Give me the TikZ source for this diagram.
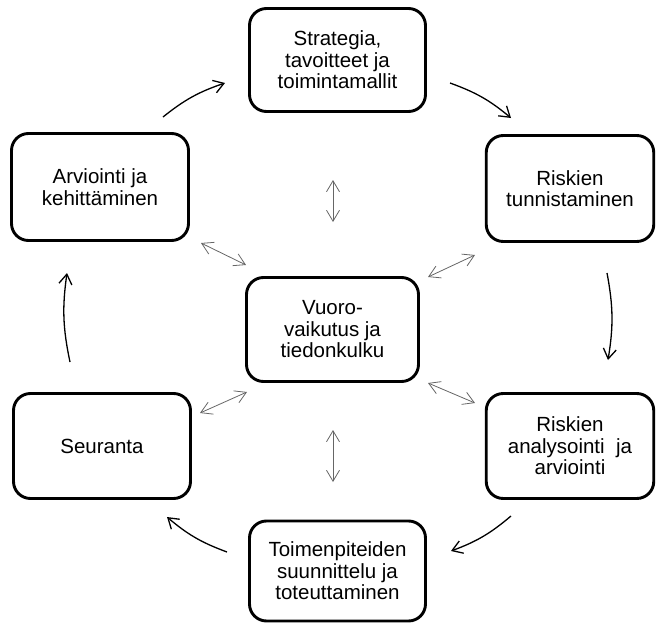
\documentclass[tikz,border=0pt]{standalone}
\usepackage{fontspec}
\setmainfont{Liberation Sans}
\usetikzlibrary{arrows.meta}
\begin{document}
\begin{tikzpicture}[x=1pt,y=-1pt,
  box/.style={draw=black, line width=2.9pt, rounded corners=17pt, align=center,
    font=\fontsize{20.5}{21.5}\selectfont, inner sep=0pt, fill=white},
  cyc/.style={draw=black, line width=1.3pt,
    -{Straight Barb[length=10pt,width=13pt,line width=1.3pt]}, bend left=10},
  dbl/.style={draw=black!60, line width=0.8pt,
    {Straight Barb[length=11pt,width=13pt]}-{Straight Barb[length=11pt,width=13pt]}}
]
\useasboundingbox (0,0) rectangle (657,627);
% boxes
\node[box, minimum width=176pt, minimum height=103pt] (strat) at (337.5,60) {Strategia,\\tavoitteet ja\\toimintamallit};
\node[box, minimum width=167.5pt, minimum height=106pt] (riskt) at (570,188.5) {Riskien\\tunnistaminen};
\node[box, minimum width=167.5pt, minimum height=105pt] (riska) at (570,446) {Riskien\\analysointi\ \ ja\\arviointi};
\node[box, minimum width=176pt, minimum height=100pt] (toim) at (337.5,571) {Toimenpiteiden\\suunnittelu ja\\toteuttaminen};
\node[box, minimum width=177pt, minimum height=105pt] (seur) at (102,446) {Seuranta};
\node[box, minimum width=177pt, minimum height=107pt] (arv) at (100,187) {Arviointi ja\\kehittäminen};
\node[box, minimum width=172pt, minimum height=104pt] (vuoro) at (332.5,329.5) {Vuoro-\\vaikutus ja\\tiedonkulku};
% cycle arrow end points
\coordinate (c1a) at (450,83);  \coordinate (c1b) at (511,118);
\coordinate (c2a) at (607,273); \coordinate (c2b) at (608,360);
\coordinate (c3a) at (511,516); \coordinate (c3b) at (451,551);
\coordinate (c4a) at (227,552); \coordinate (c4b) at (167,517);
\coordinate (c5a) at (70,362);  \coordinate (c5b) at (67,273);
\coordinate (c6a) at (163,117); \coordinate (c6b) at (225,83);
\draw[cyc] (c1a) to (c1b);
\draw[cyc] (c2a) to (c2b);
\draw[cyc] (c3a) to (c3b);
\draw[cyc] (c4a) to (c4b);
\draw[cyc] (c5a) to (c5b);
\draw[cyc] (c6a) to (c6b);
% interaction arrows end points
\coordinate (d1a) at (333,180); \coordinate (d1b) at (333,222);
\coordinate (d2a) at (201,243); \coordinate (d2b) at (246,265);
\coordinate (d3a) at (428,277); \coordinate (d3b) at (475,255);
\coordinate (d4a) at (428,383); \coordinate (d4b) at (475,403);
\coordinate (d5a) at (333,430); \coordinate (d5b) at (333,482);
\coordinate (d6a) at (200,413); \coordinate (d6b) at (247,392);
\draw[dbl] (d1a) -- (d1b);
\draw[dbl] (d2a) -- (d2b);
\draw[dbl] (d3a) -- (d3b);
\draw[dbl] (d4a) -- (d4b);
\draw[dbl] (d5a) -- (d5b);
\draw[dbl] (d6a) -- (d6b);
\end{tikzpicture}
\end{document}
